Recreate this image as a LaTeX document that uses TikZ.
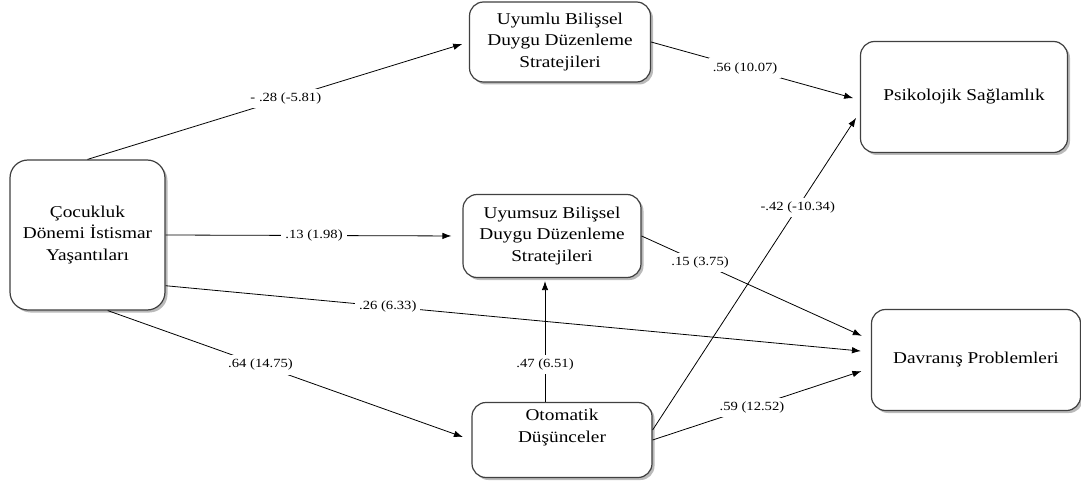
\documentclass[tikz,border=0pt]{standalone}
\usepackage{fontspec}
\setmainfont{Liberation Serif}[FakeStretch=1.17]
\usetikzlibrary{arrows.meta,shadows,positioning}

\begin{document}
\begin{tikzpicture}[x=1pt,y=-1pt,
    box/.style={draw=black!75, line width=1.2pt, rounded corners=14pt, fill=white,
      align=center, inner sep=0pt, font=\fontsize{16.5}{21.5}\selectfont,
      drop shadow={shadow xshift=2.5pt, shadow yshift=-2.5pt, opacity=0.45, fill=black!60}},
    lbl/.style={fill=white, inner sep=4pt, font=\fontsize{12.5}{14}\selectfont},
    arr/.style={-{Latex[length=9pt,width=6.5pt]}, line width=0.8pt, shorten >=7pt}]
  \useasboundingbox (0,0) rectangle (1081,489);

  % variables
  \node [box, minimum width=155pt, minimum height=150pt, rounded corners=18pt] (coc) at (87.5,235)
        {Çocukluk\\Dönemi İstismar\\Yaşantıları};
  \node [box, minimum width=181pt, minimum height=80pt] (uyl) at (560,42)
        {Uyumlu Bilişsel\\Duygu Düzenleme\\Stratejileri};
  \node [box, minimum width=178pt, minimum height=83pt] (uys) at (552,236)
        {Uyumsuz Bilişsel\\Duygu Düzenleme\\Stratejileri};
  \node [box, minimum width=180pt, minimum height=75pt] (oto) at (562,440)
        {Otomatik\\Düşünceler\\[1pt]\strut};
  \node [box, minimum width=207pt, minimum height=111pt] (pik) at (964,97)
        {Psikolojik Sağlamlık};
  \node [box, minimum width=209pt, minimum height=101pt] (dav) at (976,360)
        {Davranış Problemleri};

  % paths
  \coordinate (up) at ([xshift=-7pt]uys.south);
  \draw [arr] (coc.north) -- node [lbl, pos=0.52] {- .28 (-5.81)} (uyl.west);
  \draw [arr, shorten >=11pt] (coc.east) -- node [lbl, pos=0.5] {.13 (1.98)} (uys.west);
  \draw [arr, shorten >=10pt] (coc.-33) -- node [lbl, pos=0.315] {.26 (6.33)} ([yshift=8pt]dav.west);
  \draw [arr, shorten >=9pt] (coc.-75) -- node [lbl, pos=0.42] {.64 (14.75)} (oto.west);
  \draw [arr, shorten >=3pt] (up |- oto.north) -- node [lbl, pos=0.3] {.47 (6.51)} (up);
  \draw [arr] (uyl.east) -- node [lbl, pos=0.45] {.56 (10.07)} ([yshift=-3pt]pik.west);
  \draw [arr, shorten >=10pt] (uys.east) -- node [lbl, pos=0.255] {.15 (3.75)} ([yshift=20pt]dav.west);
  \draw [arr] ([yshift=10pt]oto.east) -- node [lbl, pos=0.7] {-.42 (-10.34)} ([yshift=-15pt]pik.west);
  \draw [arr, shorten >=10pt] (oto.east) -- node [lbl, pos=0.455] {.59 (12.52)} ([yshift=-8pt]dav.west);
\end{tikzpicture}
\end{document}
